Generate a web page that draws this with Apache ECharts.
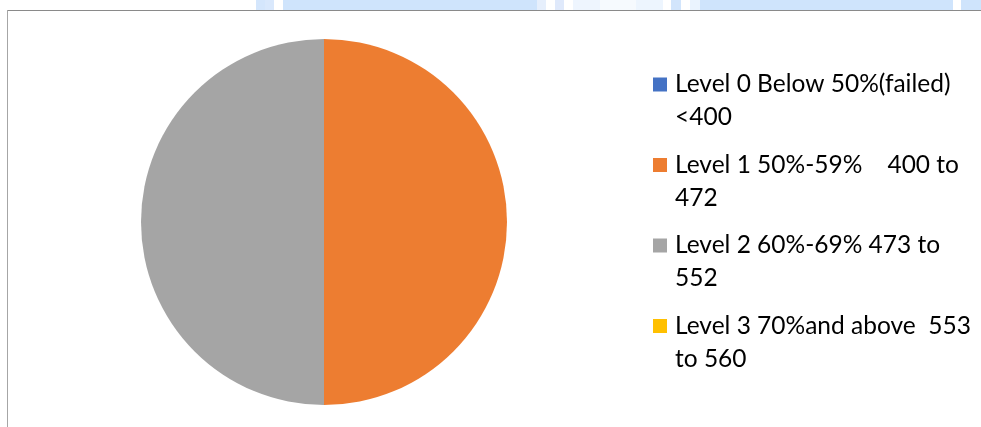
<!DOCTYPE html>
<html>
<head>
<meta charset="utf-8">
<script src="https://cdn.jsdelivr.net/npm/echarts@6/dist/echarts.min.js"></script>
<style>
  html, body { margin: 0; padding: 0; background: #fff; }
  #chart { width: 981px; height: 427px; }
</style>
</head>
<body>
<div id="chart"></div>
<script>
// Categories (legend lines as shown, wrapped in two lines)
const categoryLine1 = [
  'Level 0 Below 50%(failed)',
  'Level 1 50%-59%    400 to',
  'Level 2 60%-69% 473 to',
  'Level 3 70%and above  553'
];
const categoryLine2 = [
  '<400',
  '472',
  '552',
  'to 560'
];
const categories = categoryLine1.map((l, i) => l + ' ' + categoryLine2[i]);
// Series values (Level 1 and Level 2 each take half of the pie)
const values = [0, 1, 1, 0];
const colors = ['#4472C4', '#ED7D31', '#A5A5A5', '#FFC000'];

const chart = echarts.init(document.getElementById('chart'), null, { renderer: 'canvas' });

const bandSegments = [
  [256, 265, '#d4e6fc'], [265, 274, '#d9e8fc'], [283, 537, '#cfe4fc'],
  [537, 546, '#e6effc'], [555, 564, '#dfe9fb'], [573, 600, '#eef5fe'],
  [600, 636, '#f6fafe'], [636, 663, '#edf5fe'], [671, 681, '#d2e5fc'],
  [690, 700, '#eaf3fe'], [700, 953, '#cfe4fc'], [961, 981, '#cfe4fc']
];

const graphics = bandSegments.map(s => ({
  type: 'rect', silent: true, z: -10,
  shape: { x: s[0], y: 0, width: s[1] - s[0], height: 10 },
  style: { fill: s[2] }
}));
graphics.push({
  type: 'line', silent: true, z: -5,
  shape: { x1: 7, y1: 10.5, x2: 981, y2: 10.5 },
  style: { stroke: '#8a8a8a', lineWidth: 1 }
});
graphics.push({
  type: 'line', silent: true, z: -5,
  shape: { x1: 7.5, y1: 10, x2: 7.5, y2: 427 },
  style: { stroke: '#a6a6a6', lineWidth: 1 }
});

// Legend marker: 14px square aligned with the first text line
const markerIcon = 'path://M0,0L14,0L14,14L0,14ZM0,47L0,47';

chart.setOption({
  animation: false,
  color: colors,
  graphic: graphics,
  legend: {
    orient: 'vertical',
    left: 653,
    top: 68,
    padding: 0,
    itemWidth: 14,
    itemHeight: 47,
    itemGap: 14.5,
    icon: markerIcon,
    selectedMode: false,
    data: categories,
    formatter: function (name) {
      const i = categories.indexOf(name);
      return categoryLine1[i] + '\n' + categoryLine2[i];
    },
    textStyle: {
      fontFamily: 'Lato',
      fontSize: 24.5,
      lineHeight: 33,
      color: '#000',
      padding: [0, 0, 0, 3]
    }
  },
  series: [{
    type: 'pie',
    center: [324, 222],
    radius: 183,
    startAngle: 90,
    clockwise: true,
    label: { show: false },
    labelLine: { show: false },
    emphasis: { disabled: true },
    itemStyle: { borderWidth: 0 },
    data: categories.map((c, i) => ({ name: c, value: values[i] }))
  }]
});
</script>
</body>
</html>
